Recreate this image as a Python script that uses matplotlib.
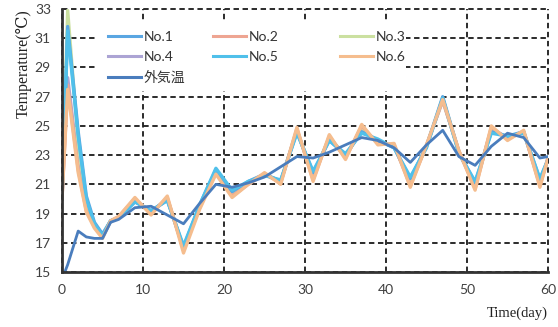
import matplotlib
matplotlib.use("Agg")
import matplotlib.pyplot as plt
from matplotlib.patches import Rectangle
from matplotlib.lines import Line2D
from matplotlib.legend import Legend

# sampling days (first day is measured at finer resolution)
days = [0, 0.7, 2, 3, 4, 5, 6, 7, 9, 11, 13, 15, 17, 19, 21, 23, 25, 27, 29,
        31, 33, 35, 37, 39, 41, 43, 45, 47, 49, 51, 53, 55, 57, 59, 60]

no1 = [20.0, 31.8, 24.6, 20.2, 18.4, 17.6, 18.5, 18.7, 19.8, 19.2, 19.9, 16.7,
       19.6, 22.0, 20.5, 21.2, 21.7, 21.2, 24.6, 21.8, 24.0, 23.0, 24.6, 24.0,
       23.5, 21.4, 23.6, 27.0, 23.2, 21.1, 24.6, 24.3, 24.6, 21.3, 22.7]
no2 = [20.0, 27.8, 22.0, 19.2, 18.1, 17.4, 18.5, 18.8, 20.0, 19.0, 20.1, 16.5,
       19.4, 21.8, 20.2, 21.0, 21.7, 21.1, 24.8, 21.3, 24.3, 22.8, 25.0, 23.8,
       23.7, 20.9, 23.7, 26.7, 23.3, 20.7, 24.9, 24.1, 24.6, 20.9, 22.8]
no3 = [20.0, 32.9, 23.8, 19.8, 18.3, 17.5, 18.5, 18.7, 19.9, 19.1, 20.0, 16.6,
       19.5, 21.9, 20.4, 21.1, 21.7, 21.2, 24.7, 21.6, 24.2, 22.9, 24.8, 23.9,
       23.6, 21.2, 23.6, 26.9, 23.2, 20.9, 24.7, 24.2, 24.6, 21.1, 22.7]
no4 = [20.0, 28.3, 22.3, 19.4, 18.2, 17.4, 18.5, 18.7, 19.9, 19.1, 20.0, 16.6,
       19.5, 21.8, 20.3, 21.1, 21.7, 21.2, 24.7, 21.5, 24.2, 22.9, 24.8, 23.9,
       23.6, 21.1, 23.6, 26.8, 23.2, 20.9, 24.8, 24.2, 24.6, 21.0, 22.8]
no5 = [20.0, 31.5, 24.3, 20.0, 18.3, 17.5, 18.5, 18.7, 19.8, 19.2, 19.9, 16.8,
       19.6, 22.1, 20.6, 21.2, 21.6, 21.3, 24.5, 21.9, 24.0, 23.1, 24.5, 24.1,
       23.5, 21.5, 23.5, 26.9, 23.1, 21.2, 24.5, 24.3, 24.5, 21.4, 22.7]
no6 = [20.0, 27.5, 21.8, 19.1, 18.0, 17.3, 18.5, 18.8, 20.1, 18.9, 20.2, 16.3,
       19.3, 21.7, 20.1, 21.0, 21.8, 21.0, 24.9, 21.2, 24.4, 22.7, 25.1, 23.7,
       23.8, 20.8, 23.7, 26.8, 23.3, 20.6, 25.0, 24.0, 24.7, 20.8, 22.8]
outdoor = [14.5, 15.5, 17.8, 17.4, 17.3, 17.3, 18.4, 18.6, 19.4, 19.5, 18.9, 18.3,
           19.7, 21.0, 20.8, 21.1, 21.5, 22.2, 22.9, 22.8, 23.2, 23.7, 24.2, 24.0,
           23.5, 22.5, 23.7, 24.7, 22.9, 22.3, 23.6, 24.5, 24.2, 22.8, 22.9]

colors = {"No.1": "#5aa6e2", "No.2": "#eea592", "No.3": "#cbe0a0",
          "No.4": "#aca4d4", "No.5": "#50c0ea", "No.6": "#f5bd8e",
          "外気温": "#4a7dbd"}

sans = ["Lato", "Noto Sans CJK JP", "DejaVu Sans"]
serif = ["Liberation Serif", "DejaVu Serif"]

fig = plt.figure(figsize=(5.58, 3.27), dpi=100)
ax = fig.add_axes([62 / 558, 1 - 272 / 327, 486 / 558, 263 / 327])

series = {"No.1": no1, "No.2": no2, "No.3": no3, "No.4": no4,
          "No.5": no5, "No.6": no6, "外気温": outdoor}
for name in ["No.4", "No.3", "No.2", "No.1", "No.5", "No.6", "外気温"]:
    lw = 2.0 if name == "外気温" else 2.4
    ax.plot(days, series[name], color=colors[name], lw=lw, zorder=3,
            solid_joinstyle="round")

ax.set_xlim(0, 60)
ax.set_ylim(15, 33)
ax.set_xticks(range(0, 61, 10))
ax.set_yticks(range(15, 34, 2))
ax.set_axisbelow(True)
ax.grid(True, color="#1a1a1a", lw=1.3, linestyle=(0, (3, 2)))
for gl in ax.get_xgridlines() + ax.get_ygridlines():
    gl.set_clip_on(False)

for side in ["top", "right"]:
    ax.spines[side].set_visible(False)
for side in ["left", "bottom"]:
    ax.spines[side].set_color("#333333")
    ax.spines[side].set_linewidth(2.0)
    ax.spines[side].set_zorder(4)

ax.tick_params(length=0, labelsize=10, labelcolor="#404040")
ax.tick_params(axis="x", pad=9)
ax.tick_params(axis="y", pad=8)
for lab in ax.get_xticklabels() + ax.get_yticklabels():
    lab.set_family(sans)

ax.set_ylabel("Temperature(℃)", family=serif, fontsize=11.5, loc="top",
              labelpad=2, color="#222222")
ax.set_xlabel("Time(day)", family=serif, fontsize=10.5, loc="right",
              labelpad=7, color="#222222")

# blank area behind the legend
ax.add_patch(Rectangle((0.068, 0.69), 0.64, 0.27, transform=ax.transAxes,
                       facecolor="white", edgecolor="none", zorder=1))

columns = [(["No.1", "No.4", "外気温"], 108),
           (["No.2", "No.5"], 213),
           (["No.3", "No.6"], 340)]
for names, px in columns:
    handles = [Line2D([], [], color=colors[n], lw=2.2) for n in names]
    leg = Legend(ax, handles, names, loc="upper left",
                 bbox_to_anchor=((px - 62) / 486, (272 - 31) / 263),
                 frameon=False, borderpad=0, borderaxespad=0,
                 handlelength=2.4, handletextpad=0.2, labelspacing=0.55,
                 prop={"family": sans, "size": 10})
    for t in leg.get_texts():
        t.set_color("#333333")
    ax.add_artist(leg)

fig.savefig("out.png", dpi=100)
